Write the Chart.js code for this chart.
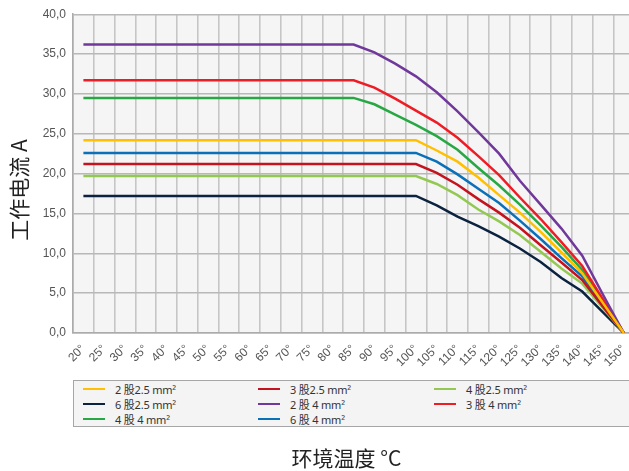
<!DOCTYPE html>
<html><head><meta charset="utf-8">
<script src="https://cdn.jsdelivr.net/npm/chart.js@4"></script>
<style>
html,body{margin:0;padding:0;background:#fff;overflow:hidden;width:629px;height:471px;}
#wrap{position:relative;width:629px;height:471px;overflow:hidden;}
#c{position:absolute;left:0;top:0;}
#legend{position:absolute;left:73px;top:380px;width:580px;height:47px;border:1px solid #a6a6a6;background:#f4f4f4;box-sizing:border-box;}
.item{position:absolute;display:flex;align-items:center;height:14px;font:11px "Noto Sans","Noto Sans CJK SC",sans-serif;letter-spacing:-0.2px;color:#333;white-space:nowrap;}
.item .sw{width:22px;height:2.5px;margin-right:10px;}
#xtitle{position:absolute;left:0;width:693px;top:443px;line-height:28px;text-align:center;font-size:21px;font-family:"Noto Sans CJK SC",sans-serif;color:#222;}
#ytitle{position:absolute;left:-42px;top:176px;width:120px;line-height:28px;text-align:center;font-size:21px;font-family:"Noto Sans CJK SC",sans-serif;color:#222;transform:rotate(-90deg);transform-origin:50% 50%;}
</style></head>
<body>
<div id="wrap">
<canvas id="c" width="643" height="471"></canvas>
<div id="legend"></div>
<div id="ytitle">工作电流 A</div>
<div id="xtitle">环境温度 °C</div>
</div>
<script>
const categories = ["20°","25°","30°","35°","40°","45°","50°","55°","60°","65°","70°","75°","80°","85°","90°","95°","100°","105°","110°","115°","120°","125°","130°","135°","140°","145°","150°"];

const seriesNames = ["2 股2.5 mm²","3 股2.5 mm²","4 股2.5 mm²","6 股2.5 mm²","2 股 4 mm²","3 股 4 mm²","4 股 4 mm²","6 股 4 mm²"];
const seriesColors = ["#FFC000","#C4121F","#93C953","#0C2340","#70389A","#EE1C25","#27A844","#0A70B8"];

const s2x25 = [24.2,24.2,24.2,24.2,24.2,24.2,24.2,24.2,24.2,24.2,24.2,24.2,24.2,24.2,24.2,24.2,24.2,22.9,21.5,19.5,17.3,15.1,12.7,10.1,7.5,3.75,0];
const s3x25 = [21.2,21.2,21.2,21.2,21.2,21.2,21.2,21.2,21.2,21.2,21.2,21.2,21.2,21.2,21.2,21.2,21.2,20.1,18.6,16.8,15.1,13.2,11.0,8.85,6.65,3.3,0];
const s4x25 = [19.7,19.7,19.7,19.7,19.7,19.7,19.7,19.7,19.7,19.7,19.7,19.7,19.7,19.7,19.7,19.7,19.7,18.7,17.3,15.5,14.0,12.3,10.2,8.1,6.2,3.1,0];
const s6x25 = [17.2,17.2,17.2,17.2,17.2,17.2,17.2,17.2,17.2,17.2,17.2,17.2,17.2,17.2,17.2,17.2,17.2,16.0,14.6,13.4,12.1,10.6,8.9,6.9,5.2,2.6,0];
const s2x4 = [36.2,36.2,36.2,36.2,36.2,36.2,36.2,36.2,36.2,36.2,36.2,36.2,36.2,36.2,35.2,33.8,32.2,30.2,27.8,25.2,22.5,19.1,16.1,13.1,9.7,4.8,0];
const s3x4 = [31.7,31.7,31.7,31.7,31.7,31.7,31.7,31.7,31.7,31.7,31.7,31.7,31.7,31.7,30.8,29.4,27.9,26.4,24.5,22.2,19.8,17.0,14.3,11.4,8.4,4.2,0];
const s4x4 = [29.5,29.5,29.5,29.5,29.5,29.5,29.5,29.5,29.5,29.5,29.5,29.5,29.5,29.5,28.7,27.4,26.1,24.7,23.0,20.7,18.5,16.1,13.5,10.8,7.9,3.95,0];
const s6x4 = [22.6,22.6,22.6,22.6,22.6,22.6,22.6,22.6,22.6,22.6,22.6,22.6,22.6,22.6,22.6,22.6,22.6,21.5,19.9,18.1,16.3,14.1,11.8,9.4,7.1,3.55,0];

const seriesValues = [s2x25, s3x25, s4x25, s6x25, s2x4, s3x4, s4x4, s6x4];

const yMin = 0, yMax = 40, yStep = 5;

const plotBg = {
  id: 'plotBg',
  beforeDraw(chart) {
    const {ctx, chartArea: a} = chart;
    ctx.save();
    ctx.fillStyle = '#F5F5F5';
    ctx.fillRect(a.left, a.top, a.right - a.left, a.bottom - a.top);
    ctx.restore();
  }
};

const chart = new Chart(document.getElementById('c'), {
  type: 'line',
  data: {
    labels: categories,
    datasets: seriesNames.map((n, i) => ({
      label: n,
      data: seriesValues[i],
      borderColor: seriesColors[i],
      backgroundColor: seriesColors[i],
      borderWidth: 2.5,
      pointRadius: 0,
      tension: 0,
      fill: false
    }))
  },
  options: {
    responsive: false,
    animation: false,
    devicePixelRatio: 1,
    layout: {padding: {top: 13, right: 0, bottom: 0, left: 0}},
    plugins: {legend: {display: false}, tooltip: {enabled: false}},
    scales: {
      x: {
        type: 'category',
        offset: true,
        afterFit(s) { s.height = 138; },
        grid: {offset: true, color: '#C6C6C6', lineWidth: 1.6, drawTicks: false},
        border: {color: '#ABABAB', width: 1.6},
        ticks: {
          autoSkip: false, minRotation: 45, maxRotation: 45, padding: 9,
          color: '#555', font: {family: '"Liberation Sans", Arial, sans-serif', size: 12}
        }
      },
      y: {
        min: yMin, max: yMax,
        afterFit(s) { s.width = 73; },
        grid: {color: '#B8B8B8', lineWidth: 1.4, drawTicks: false},
        border: {color: '#ABABAB', width: 1.6},
        ticks: {
          stepSize: yStep, padding: 7, color: '#555',
          font: {family: '"Liberation Sans", Arial, sans-serif', size: 12},
          callback: v => v.toFixed(1).replace('.', ',')
        }
      }
    }
  },
  plugins: [plotBg]
});

// HTML legend built from the chart datasets
const legend = document.getElementById('legend');
const colX = [9, 184, 360];
const rowY = [1, 16, 31];
chart.data.datasets.forEach((ds, i) => {
  const it = document.createElement('div');
  it.className = 'item';
  it.style.left = colX[i % 3] + 'px';
  it.style.top = rowY[Math.floor(i / 3)] + 'px';
  const sw = document.createElement('span');
  sw.className = 'sw';
  sw.style.background = ds.borderColor;
  const tx = document.createElement('span');
  tx.textContent = ds.label;
  it.appendChild(sw); it.appendChild(tx);
  legend.appendChild(it);
});
</script>
</body></html>
